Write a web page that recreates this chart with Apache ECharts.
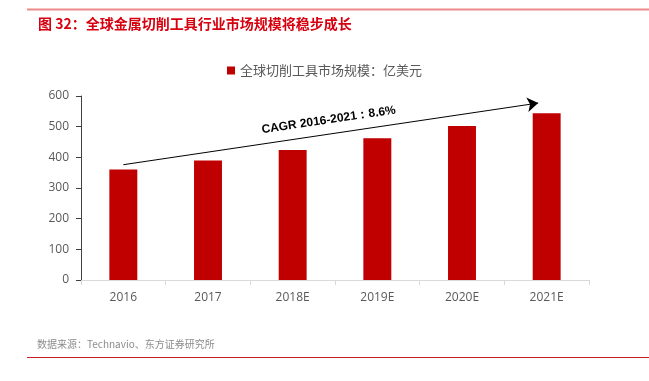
<!DOCTYPE html>
<html><head><meta charset="utf-8">
<script src="https://cdn.jsdelivr.net/npm/echarts@6/dist/echarts.min.js"></script>
<style>html,body{margin:0;padding:0;background:#fff}#c{width:649px;height:381px}</style>
</head><body><div id="c"></div>
<script>
const categories = ['2016', '2017', '2018E', '2019E', '2020E', '2021E'];
const marketSize = [360, 390, 424, 462, 502, 544];
const seriesName = '全球切削工具市场规模：亿美元';
const yTicks = { min: 0, max: 600, interval: 100 };
const cagrStart = [0, 376];
const cagrEnd = [4.9, 577];
const cagrText = 'CAGR 2016-2021：8.6%';
const titleText = '图 32：全球金属切削工具行业市场规模将稳步成长';
const sourceText = '数据来源：Technavio、东方证券研究所';

const chart = echarts.init(document.getElementById('c'), null, { renderer: 'canvas' });
const cjk = '"Noto Sans CJK SC", "Noto Sans", sans-serif';
chart.setOption({
  animation: false,
  backgroundColor: '#fff',
  title: {
    text: titleText, left: 33, top: 12,
    textStyle: { color: '#D7000F', fontSize: 14, fontWeight: 'bold', fontFamily: cjk }
  },
  legend: {
    data: [seriesName], top: 59, left: 222, itemWidth: 8, itemHeight: 8, itemGap: 4,
    icon: 'rect',
    textStyle: { color: '#595959', fontSize: 13, fontFamily: cjk }
  },
  grid: { left: 81, right: 60, top: 96, bottom: 101 },
  xAxis: [{
    type: 'category', data: categories,
    axisLine: { lineStyle: { color: '#D9D9D9', width: 1 } },
    axisTick: { show: true, length: 5, lineStyle: { color: '#D9D9D9' } },
    axisLabel: { color: '#595959', fontSize: 12, margin: 12, fontFamily: '"Open Sans", sans-serif' }
  }, {
    type: 'value', min: -0.5, max: 5.5, show: false
  }],
  yAxis: {
    type: 'value', min: yTicks.min, max: yTicks.max, interval: yTicks.interval,
    axisLine: { show: true, onZero: false, lineStyle: { color: '#404040', width: 1 } },
    axisTick: { show: true, length: 5, lineStyle: { color: '#404040' } },
    splitLine: { show: false },
    axisLabel: { color: '#595959', fontSize: 12, margin: 12, fontFamily: '"Open Sans", sans-serif' }
  },
  series: [{
    name: seriesName, type: 'bar', data: marketSize, barWidth: '33%',
    itemStyle: { color: '#C00000' }
  }, {
    type: 'scatter', xAxisIndex: 1, yAxisIndex: 0, data: [], silent: true,
    markLine: {
      silent: true, symbol: ['none', 'arrow'], symbolSize: 11,
      lineStyle: { color: '#000', width: 1, type: 'solid' },
      label: {
        show: true, formatter: cagrText, position: 'insideMiddleTop', distance: 8,
        color: '#000', fontSize: 12, fontWeight: 'bold', fontFamily: '"Liberation Sans Narrow", "Liberation Sans", sans-serif'
      },
      data: [[{ coord: cagrStart }, { coord: cagrEnd }]]
    }
  }],
  graphic: [
    { type: 'line', shape: { x1: 27, y1: 9.5, x2: 649, y2: 9.5 }, style: { stroke: '#EE8A8A', lineWidth: 2 } },
    { type: 'line', shape: { x1: 27, y1: 357.5, x2: 649, y2: 357.5 }, style: { stroke: '#C8202A', lineWidth: 1 } },
    { type: 'text', left: 37, top: 339, style: { text: sourceText, fill: '#8C8C8C', fontSize: 10, fontFamily: cjk } }
  ]
});
</script></body></html>
